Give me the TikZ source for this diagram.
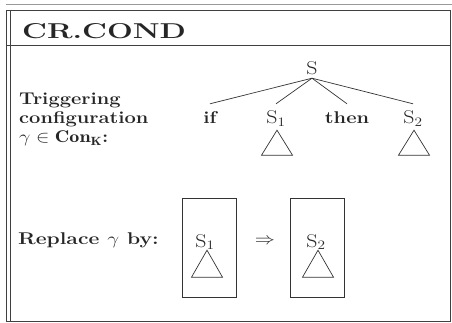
\documentclass[tikz,border=0pt]{standalone}
\usepackage{fix-cm}
\usepackage{fontspec}
\usepackage{graphicx}
\newcommand{\wx}[1]{\scalebox{1.18}[1]{#1}}
\begin{document}
\begin{tikzpicture}[x=1pt,y=-1pt,
  frameline/.style={draw=black!75, line width=0.9pt},
  thin line/.style={draw=black!80, line width=0.7pt},
  big/.style={inner sep=0, anchor=base west, text=black!85, font=\fontsize{21.5}{24}\selectfont\bfseries},
  lbl/.style={inner sep=0, anchor=base west, text=black!85, font=\fontsize{17}{19}\selectfont\bfseries},
  tl/.style={inner sep=0, anchor=base, text=black!85, font=\fontsize{18.5}{20}\selectfont, text height=20pt, text depth=6pt},
  tlb/.style={tl, font=\fontsize{17}{19}\selectfont\bfseries},
  root/.style={tl, text height=12pt, text depth=3pt},
  inbox/.style={tl, text height=12pt, text depth=3pt},
  rulebox/.style={draw=black!80, line width=0.8pt, inner sep=0, minimum width=54pt, minimum height=99pt}
]
\useasboundingbox (0,0) rectangle (452,323);
% frame
\draw[black!40, line width=0.6pt] (6,4.5) -- (452,4.5);
\draw[frameline] (6,10) -- (450.5,10) -- (450.5,321.5) -- (6,321.5) -- cycle;
\draw[frameline] (10,10) -- (10,321.5);
\draw[frameline] (6,45) -- (450.5,45);
% title
\node[big] (title) at (22,39) {\scalebox{1.42}[1]{CR.COND}};
% left labels
\node[lbl] (l1) at (19,105) {\wx{Triggering}};
\node[lbl] (l2) at (19,124) {\wx{configuration}};
\node[lbl] (l3) at (19,143) {\wx{$\gamma\in\mathbf{Con_K}$:}};
% tree
\node[root] (S) at (312,75) {\wx{S}};
\node[tlb] (if) at (210,124) {\wx{if}};
\node[tl] (s1) at (276,124) {\wx{S$_1$}};
\node[tlb] (then) at (347,124) {\wx{then}};
\node[tl] (s2) at (413,124) {\wx{S$_2$}};
\draw[thin line] (S.south) -- (if.north);
\draw[thin line] (S.south) -- (s1.north);
\draw[thin line] (S.south) -- (then.north);
\draw[thin line] (S.south) -- (s2.north);
\draw[thin line] ([xshift=1pt]s1.south) -- ++(-15.5,25) -- ++(31,0) -- cycle;
\draw[thin line] ([xshift=1pt]s2.south) -- ++(-15.5,25) -- ++(31,0) -- cycle;
% replace row
\node[lbl] (rep) at (18,244) {\scalebox{1.24}[1]{Replace $\gamma$ by:}};
\node[rulebox] (b1) at (209,247.5) {};
\node[rulebox] (b2) at (317.5,247.5) {};
\node[inbox] (r1) at (205,247) {\wx{S$_1$}};
\node[inbox] (r2) at (316,247) {\wx{S$_2$}};
\draw[thin line] ([xshift=2pt]r1.south) -- ++(-15.5,27) -- ++(31,0) -- cycle;
\draw[thin line] ([xshift=2pt]r2.south) -- ++(-15.5,27) -- ++(31,0) -- cycle;
\node[inner sep=0, text=black!85, font=\fontsize{17}{19}\selectfont] (arr) at (265,241) {\wx{$\Rightarrow$}};
\end{tikzpicture}
\end{document}
